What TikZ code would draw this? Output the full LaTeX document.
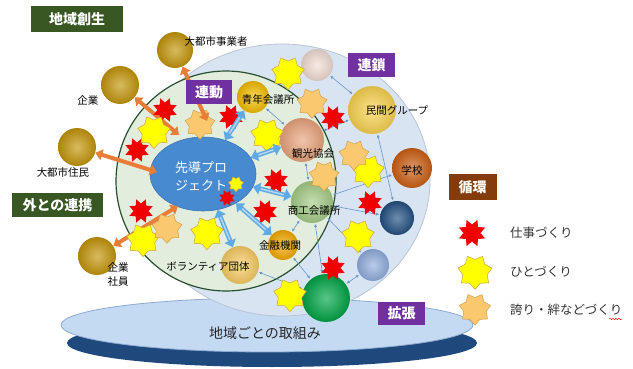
\documentclass[tikz,border=0pt]{standalone}
\usepackage{fontspec}
\setmainfont{Noto Sans CJK JP}
\usetikzlibrary{shapes.geometric,arrows.meta,decorations.pathmorphing}
\definecolor{boxgreen}{RGB}{56,87,35}
\definecolor{boxpurple}{RGB}{112,48,160}
\definecolor{boxbrown}{RGB}{133,60,12}
\definecolor{outerfill}{RGB}{217,228,243}
\definecolor{outeredge}{RGB}{185,196,212}
\definecolor{innerfill}{RGB}{226,237,222}
\definecolor{inneredge}{RGB}{40,80,45}
\definecolor{platlight}{RGB}{196,217,242}
\definecolor{platedge}{RGB}{140,170,210}
\definecolor{platdark}{RGB}{31,73,125}
\definecolor{projblue}{RGB}{72,138,208}
\definecolor{projedge}{RGB}{60,115,180}
\definecolor{arrorange}{RGB}{232,125,55}
\definecolor{arrblue}{RGB}{95,170,228}
\definecolor{thinblue}{RGB}{100,150,205}
\definecolor{staryellow}{RGB}{255,255,0}
\definecolor{staredge}{RGB}{210,160,70}
\definecolor{starorange}{RGB}{250,200,110}
\definecolor{starred}{RGB}{240,0,0}
\definecolor{cgold}{RGB}{196,150,10}
\definecolor{cseinen}{RGB}{245,190,0}
\definecolor{ckanko}{RGB}{235,165,125}
\definecolor{cshoko}{RGB}{165,205,135}
\definecolor{ckinyu}{RGB}{245,170,0}
\definecolor{cvol}{RGB}{250,205,100}
\definecolor{cwhite}{RGB}{242,222,212}
\definecolor{cminkan}{RGB}{250,212,80}
\definecolor{cgakko}{RGB}{205,95,20}
\definecolor{cdblue}{RGB}{35,80,130}
\definecolor{clblue}{RGB}{145,175,222}
\definecolor{cgreen}{RGB}{0,165,70}
\begin{document}
\begin{tikzpicture}[x=1pt,y=-1pt,
  ballnode/.style={circle,inner sep=0pt,shading=radial,inner color=#1!65!white,outer color=#1!88!black},
  ystar/.style={star,star points=7,star point ratio=0.72,fill=staryellow,draw=staredge,line width=0.5pt,minimum size=24pt,inner sep=0pt},
  ostar/.style={star,star points=7,star point ratio=0.72,fill=starorange,draw=staredge,line width=0.5pt,minimum size=22pt,inner sep=0pt},
  rstar/.style={star,star points=8,star point ratio=0.6,fill=starred,minimum size=15pt,inner sep=0pt},
  lbl/.style={font=\fontsize{10.5}{12}\selectfont,text=black,inner sep=0pt},
  leg/.style={font=\fontsize{12.5}{14}\selectfont,text=black!80,inner sep=0pt,anchor=west},
  tagbox/.style={font=\fontsize{14}{14}\selectfont\bfseries,text=white,inner sep=0pt,minimum height=24pt},
  oarr/.style={line width=4pt,draw=arrorange,arrows={Triangle[width=11pt,length=7pt]-Triangle[width=11pt,length=7pt]}},
  barr/.style={line width=4.5pt,draw=arrblue,arrows={Triangle[width=12pt,length=7pt]-Triangle[width=12pt,length=7pt]}},
  bhl/.style={line width=1.4pt,draw=white,draw opacity=0.55,shorten <=8pt,shorten >=8pt},
  tarr/.style={line width=0.6pt,draw=thinblue,arrows={Latex[length=3pt,width=3pt]-Latex[length=3pt,width=3pt]},shorten <=1pt,shorten >=1pt}
]
\useasboundingbox (0,0) rectangle (633,369);
% platform
\fill[platdark] (272,343) ellipse [x radius=205pt, y radius=24pt];
\filldraw[fill=platlight,draw=platedge,line width=0.8pt] (267,325) ellipse [x radius=206pt, y radius=27pt];
% outer and inner areas
\filldraw[fill=outerfill,draw=outeredge,line width=0.8pt] (282,180) ellipse [x radius=148pt, y radius=136pt];
\filldraw[fill=innerfill,draw=inneredge,line width=1.2pt] (226,181) circle [radius=110pt];
% project
\node[ellipse,fill=projblue,draw=projedge,line width=0.6pt,minimum width=106pt,minimum height=74pt] (proj) at (203,174) {};
% balls
\node[ballnode=cgold,minimum size=36pt] (bjig) at (175,50) {};
\node[ballnode=cgold,minimum size=38pt] (bkig) at (120,85) {};
\node[ballnode=cgold,minimum size=38pt] (bjum) at (77,147) {};
\node[ballnode=cgold,minimum size=38pt] (bsha) at (97,256) {};
\node[ballnode=cseinen,minimum size=32pt] (bsei) at (253,97) {};
\node[ballnode=ckanko,minimum size=44pt] (bkan) at (302,140) {};
\node[ballnode=cshoko,minimum size=42pt] (bsho) at (312,202) {};
\node[ballnode=ckinyu,minimum size=30pt] (bkin) at (283,245) {};
\node[ballnode=cvol,minimum size=38pt] (bvol) at (240,265) {};
\node[ballnode=cwhite,minimum size=32pt] (bwht) at (317,65) {};
\node[ballnode=cminkan,minimum size=48pt] (bmin) at (372,110) {};
\node[ballnode=cgakko,minimum size=40pt] (bgak) at (412,168) {};
\node[ballnode=cdblue,minimum size=34pt] (bdbl) at (397,218) {};
\node[ballnode=clblue,minimum size=32pt] (blbl) at (373,265) {};
\node[ballnode=cgreen,minimum size=48pt] (bgrn) at (326,298) {};
% thin chain arrows
\draw[tarr] (bsei) -- (bkan);
\draw[tarr,shorten <=12pt] (bsei) -- (bwht);
\draw[tarr] (bwht) -- (bmin);
\draw[tarr] (bkan) -- (bmin);
\draw[tarr] (bkan) -- (bsho);
\draw[tarr] (bmin) -- (bdbl);
\draw[tarr] (bgak) -- (bsho);
\draw[tarr] (bsho) -- (bdbl);
\draw[tarr] (bsho) -- (blbl);
\draw[tarr] (bsho) -- (bkin);
\draw[tarr] (bkin) -- (bgrn);
\draw[tarr] (bgrn) -- (blbl);
\draw[tarr] (bvol) -- (bgrn);
\draw[tarr] (bsho) -- (bgrn);
% orange arrows (outer links)
\coordinate (a1) at (207,121);
\coordinate (a2) at (179,135);
\coordinate (a3) at (157,172);
\coordinate (a4) at (178,206);
\draw[oarr] (bkig) -- (a2);
\draw[oarr] (bjum) -- (a3);
\draw[oarr] (bsha) -- (a4);
% stars
\node[rstar] (r1) at (165,110) {};
\node[rstar] (r2) at (137,150) {};
\node[rstar] (r3) at (231,117) {};
\node[rstar] (r4) at (276,181) {};
\node[rstar] (r5) at (333,118) {};
\node[rstar] (r6) at (141,211) {};
\node[rstar] (r7) at (265,212) {};
\node[rstar] (r8) at (370,203) {};
\node[rstar] (r9) at (333,268) {};
\node[rstar,minimum size=10pt] (r10) at (227,198) {};
\node[ystar] (y1) at (154,132) {};
\node[ystar] (y2) at (267,135) {};
\node[ystar] (y3) at (288,73) {};
\node[ystar] (y4) at (143,240) {};
\node[ystar] (y5) at (207,233) {};
\node[ystar] (y6) at (358,236) {};
\node[ystar] (y7) at (368,171) {};
\node[ystar] (y8) at (290,295) {};
\node[ystar,minimum size=11pt] (y9) at (236,184) {};
\node[ostar] (o1) at (200,124) {};
\node[ostar] (o2) at (312,103) {};
\node[ostar] (o3) at (324,176) {};
\node[ostar] (o4) at (167,228) {};
\node[ostar] (o5) at (354,155) {};
\draw[oarr] (bjig) -- (a1);
% blue arrows from project
\draw[barr] (proj) -- (bsei);
\draw[barr] (proj) -- (bkan);
\draw[barr] (proj) -- (bsho);
\draw[barr] (proj) -- (bkin);
\draw[barr] (proj) -- (bvol);
\draw[bhl] (proj) -- (bsei);
\draw[bhl] (proj) -- (bkan);
\draw[bhl] (proj) -- (bsho);
\draw[bhl] (proj) -- (bkin);
\draw[bhl] (proj) -- (bvol);
% labels
\node[font=\fontsize{13}{18}\selectfont,text=white,align=center,inner sep=0pt] (projt) at (201,176) {先導プロ\\ジェクト};
\node[lbl] (ljig) at (216,42) {大都市事業者};
\node[lbl] (lkig) at (88,100) {企業};
\node[lbl] (ljum) at (63,172) {大都市住民};
\node[lbl,align=center,font=\fontsize{10.5}{14}\selectfont] (lsha) at (118,275) {企業\\社員};
\node[lbl] (lsei) at (268,100) {青年会議所};
\node[lbl] (lkan) at (313,154) {観光協会};
\node[lbl] (lsho) at (314,211) {商工会議所};
\node[lbl] (lkin) at (280,246) {金融機関};
\node[lbl] (lvol) at (208,267) {ボランティア団体};
\node[lbl] (lmin) at (397,111) {民間グループ};
\node[lbl] (lgak) at (412,170) {学校};
\node[font=\fontsize{14}{14}\selectfont,text=black!85,inner sep=0pt] (lplat) at (265,333) {地域ごとの取組み};
% tag boxes
\node[tagbox,fill=boxgreen,minimum width=92pt,minimum height=26pt] (tchi) at (77,19) {地域創生};
\node[tagbox,fill=boxgreen,minimum width=91pt] (tsoto) at (57.5,205) {外との連携};
\node[tagbox,fill=boxpurple,minimum width=46pt] (tren) at (209,92) {連動};
\node[tagbox,fill=boxpurple,minimum width=47pt] (trsa) at (371.5,65) {連鎖};
\node[tagbox,fill=boxbrown,minimum width=48pt,minimum height=25pt] (tjun) at (472.5,187) {循環};
\node[tagbox,fill=boxpurple,minimum width=47pt,minimum height=23pt] (tkak) at (401.5,313.5) {拡張};
% legend
\node[rstar,minimum size=17pt] (lgr) at (472,233) {};
\node[ystar,minimum size=25pt] (lgy) at (475,272) {};
\node[ostar,minimum size=23pt] (lgo) at (475,309) {};
\node[leg] (lt1) at (510,233) {仕事づくり};
\node[leg] (lt2) at (510,272) {ひとづくり};
\node[leg] (lt3) at (510,310) {誇り・絆などづくり};
\coordinate (sq1) at (609,319);
\coordinate (sq2) at (622,319);
\draw[red,line width=0.5pt,decorate,decoration={snake,amplitude=0.6pt,segment length=3pt}] (sq1) -- (sq2);
\end{tikzpicture}
\end{document}
